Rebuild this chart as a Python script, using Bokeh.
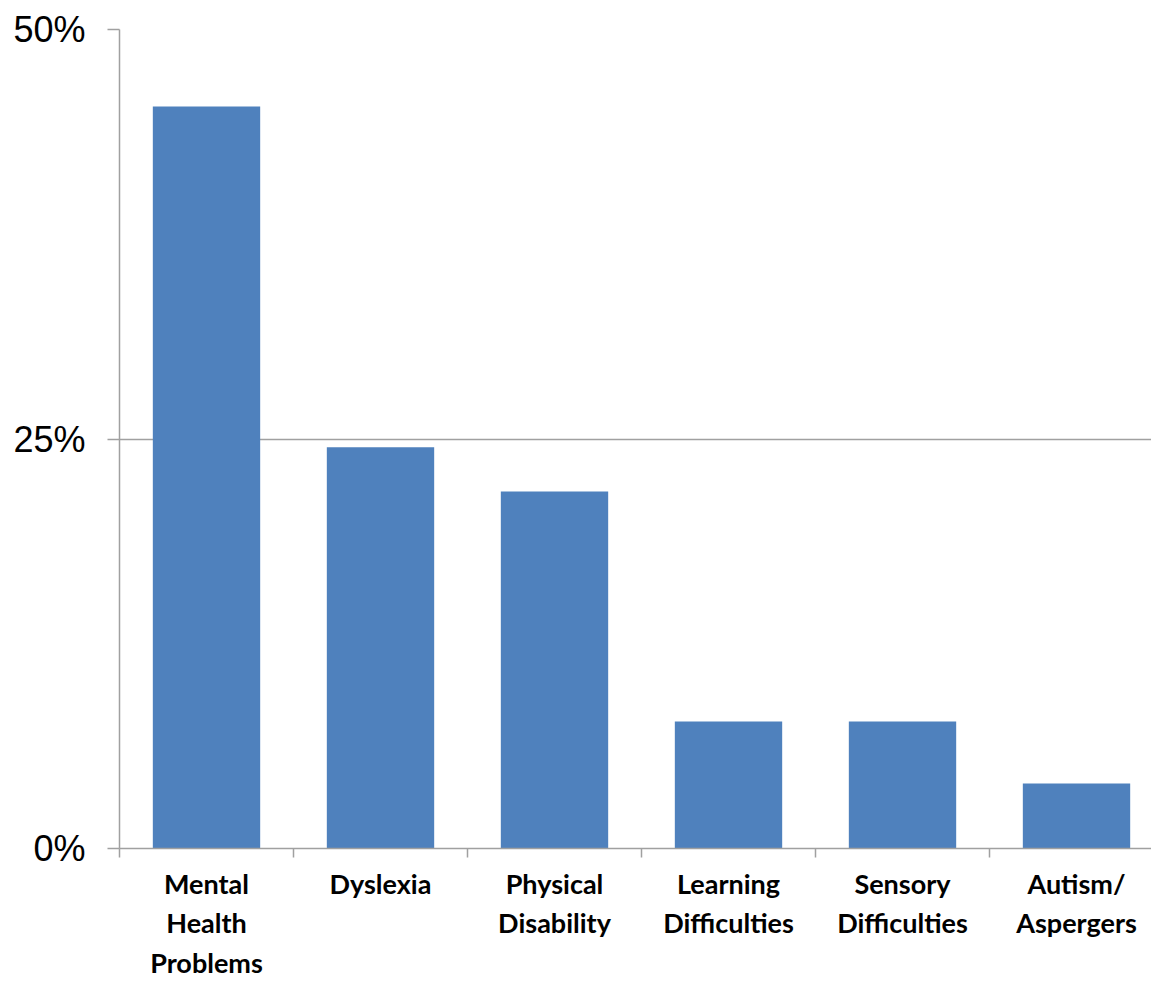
from bokeh.plotting import figure
from bokeh.models import Range1d, FixedTicker, ColumnDataSource
from bokeh.embed import file_html
from bokeh.resources import INLINE

categories = ["Mental\nHealth\nProblems", "Dyslexia", "Physical\nDisability",
              "Learning\nDifficulties", "Sensory\nDifficulties", "Autism/\nAspergers"]
values = [45.3, 24.5, 21.8, 7.75, 7.75, 3.97]
y_ticks = [0, 25, 50]
y_labels = ["0%", "25%", "50%"]

xs = [i + 0.5 for i in range(len(categories))]
src = ColumnDataSource(dict(x=xs, top=values))

p = figure(width=1151, height=983, output_backend="svg", toolbar_location=None,
           x_range=Range1d(0, 5.931), y_range=Range1d(0, 50))
p.min_border_left = 119
p.min_border_right = 0
p.min_border_top = 29
p.min_border_bottom = 135
p.outline_line_color = None
p.background_fill_color = "white"

p.vbar(x="x", top="top", width=0.617, bottom=0, source=src,
       fill_color="#4F81BD", line_color=None)

p.xgrid.visible = False
p.ygrid.grid_line_color = "#A0A0A0"
p.ygrid.grid_line_width = 1.5
p.ygrid.ticker = FixedTicker(ticks=y_ticks)

ya = p.yaxis[0]
ya.ticker = FixedTicker(ticks=y_ticks)
ya.major_label_overrides = {t: l for t, l in zip(y_ticks, y_labels)}
ya.major_label_text_font = "Liberation Sans"
ya.major_label_text_font_size = "36px"
ya.major_label_text_color = "black"
ya.major_label_standoff = 22
ya.axis_line_color = "#A0A0A0"
ya.axis_line_width = 1.5
ya.major_tick_line_color = "#A0A0A0"
ya.major_tick_line_width = 1.5
ya.major_tick_out = 12
ya.major_tick_in = 0
ya.minor_tick_line_color = None

xa = p.xaxis[0]
xa.ticker = FixedTicker(ticks=xs, minor_ticks=list(range(0, 7)))
xa.major_label_overrides = {x: c for x, c in zip(xs, categories)}
xa.major_label_text_font = "Lato"
xa.major_label_text_font_style = "bold"
xa.major_label_text_font_size = "27px"
xa.major_label_text_line_height = 1.2
xa.major_label_text_color = "black"
xa.major_label_standoff = 9
xa.axis_line_color = "#A0A0A0"
xa.axis_line_width = 1.5
xa.major_tick_line_color = None
xa.minor_tick_line_color = "#A0A0A0"
xa.minor_tick_line_width = 1.5
xa.minor_tick_out = 9
xa.minor_tick_in = 0

open("out.html", "w").write(file_html(p, INLINE))
